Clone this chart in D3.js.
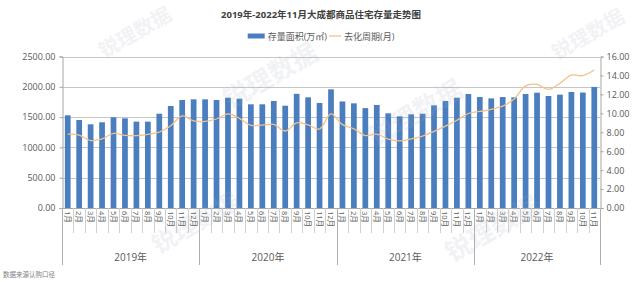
<!DOCTYPE html>
<html>
<head>
<meta charset="utf-8">
<script src="https://cdn.jsdelivr.net/npm/d3@7"></script>
<style>
  body { margin: 0; background: #fff; }
  svg { display: block; font-family: "Open Sans", "Noto Sans CJK SC", sans-serif; }
</style>
</head>
<body>
<div id="chart"></div>
<script>
// categories
const years = ["2019年", "2020年", "2021年", "2022年"];
const monthNames = ["1月", "2月", "3月", "4月", "5月", "6月", "7月", "8月", "9月", "10月", "11月", "12月"];
const monthsPerYear = [12, 12, 12, 11];

// 存量面积(万㎡)
const stock = [
  1530, 1452, 1381, 1414, 1497, 1480, 1425, 1425, 1556, 1683, 1782, 1793,
  1793, 1782, 1820, 1804, 1711, 1711, 1766, 1688, 1884, 1826, 1733, 1958,
  1758, 1727, 1648, 1700, 1562, 1513, 1546, 1556, 1694, 1766, 1820, 1881,
  1831, 1809, 1831, 1826, 1881, 1903, 1848, 1870, 1914, 1905, 1998
];

// 去化周期(月)
const cycle = [
  7.80, 7.70, 7.12, 7.29, 7.88, 7.67, 7.64, 7.78, 8.02, 8.69, 9.73, 9.19,
  9.15, 9.40, 9.95, 9.47, 8.73, 8.76, 8.83, 8.13, 9.00, 8.78, 8.34, 9.95,
  8.80, 8.36, 7.65, 7.80, 7.27, 7.08, 7.30, 7.60, 8.10, 8.65, 9.27, 9.98,
  10.20, 10.42, 10.75, 11.50, 12.90, 13.05, 12.52, 13.17, 14.04, 13.98, 14.57
];

const leftTicks = [0, 500, 1000, 1500, 2000, 2500];
const rightTicks = [0, 2, 4, 6, 8, 10, 12, 14, 16];

const title = "2019年-2022年11月大成都商品住宅存量走势图";
const seriesNames = ["存量面积(万㎡)", "去化周期(月)"];
const source = "数据来源认购口径";
const watermark = "锐理数据";

// build category list from years and months
const cats = [];
years.forEach((y, yi) => {
  for (let m = 0; m < monthsPerYear[yi]; m++) cats.push({ year: yi, month: monthNames[m] });
});

const width = 641, height = 282;
const plot = { left: 62, right: 600, top: 56.5, bottom: 208 };
const barColor = "#4a7ebf";
const lineColor = "#f4c08a";
const textColor = "#595959";

const svg = d3.select("#chart").append("svg")
  .attr("width", width)
  .attr("height", height);

const xCat = d3.scaleBand()
  .domain(d3.range(cats.length))
  .range([plot.left, plot.right]);

const xBar = d3.scaleBand()
  .domain(d3.range(cats.length))
  .range([plot.left, plot.right])
  .paddingInner(0.5)
  .paddingOuter(0.25);

const yL = d3.scaleLinear().domain([0, 2500]).range([plot.bottom, plot.top]);
const yR = d3.scaleLinear().domain([0, 16]).range([plot.bottom, plot.top]);

// gridlines
svg.append("g")
  .selectAll("line")
  .data(leftTicks)
  .enter().append("line")
  .attr("x1", plot.left)
  .attr("x2", plot.right)
  .attr("y1", d => Math.round(yL(d)) + 0.5)
  .attr("y2", d => Math.round(yL(d)) + 0.5)
  .attr("stroke", "#c6c6c6")
  .attr("stroke-width", 1);

// bars
svg.append("g")
  .selectAll("rect")
  .data(stock)
  .enter().append("rect")
  .attr("x", (d, i) => xBar(i))
  .attr("y", d => yL(d))
  .attr("width", xBar.bandwidth())
  .attr("height", d => yL(0) - yL(d))
  .attr("fill", barColor);

// line
const line = d3.line()
  .x((d, i) => xCat(i) + xCat.bandwidth() / 2)
  .y(d => yR(d))
  .curve(d3.curveCatmullRom.alpha(0.5));

svg.append("path")
  .datum(cycle)
  .attr("d", line)
  .attr("fill", "none")
  .attr("stroke", lineColor)
  .attr("stroke-width", 1.3);

// left axis
const leftAxis = svg.append("g")
  .attr("transform", `translate(${plot.left + 0.5},0)`)
  .call(d3.axisLeft(yL).tickValues(leftTicks).tickFormat(d3.format(".2f")).tickSize(3).tickPadding(4));

// right axis
const rightAxis = svg.append("g")
  .attr("transform", `translate(${plot.right + 0.5},0)`)
  .call(d3.axisRight(yR).tickValues(rightTicks).tickFormat(d3.format(".2f")).tickSize(3).tickPadding(3));

[leftAxis, rightAxis].forEach(g => {
  g.select(".domain").attr("stroke", "#a6a6a6");
  g.selectAll(".tick line").attr("stroke", "#a6a6a6");
  g.selectAll(".tick text")
    .attr("fill", textColor)
    .style("font-size", "9px")
    .style("font-family", "'Open Sans', sans-serif");
});

// category axis
const bottomAxis = svg.append("g");
bottomAxis.append("line")
  .attr("x1", plot.left)
  .attr("x2", plot.right + 0.5)
  .attr("y1", plot.bottom + 0.5)
  .attr("y2", plot.bottom + 0.5)
  .attr("stroke", "#a6a6a6");

// month separators, longer at year boundaries
const isYearEdge = i => i === 0 || i === cats.length || cats[i].year !== cats[i - 1].year;
const boundaries = d3.range(cats.length + 1);
bottomAxis.selectAll(".sep")
  .data(boundaries)
  .enter().append("line")
  .attr("class", "sep")
  .attr("x1", i => Math.round(i < cats.length ? xCat(i) : plot.right) + 0.5)
  .attr("x2", i => Math.round(i < cats.length ? xCat(i) : plot.right) + 0.5)
  .attr("y1", plot.bottom)
  .attr("y2", i => isYearEdge(i) ? 265 : 233)
  .attr("stroke", i => isYearEdge(i) ? "#b0b0b0" : "#d0d0d0");

bottomAxis.selectAll(".month")
  .data(cats)
  .enter().append("text")
  .attr("class", "month")
  .attr("transform", (d, i) => `translate(${xCat(i) + xCat.bandwidth() / 2},${plot.bottom + 3}) rotate(90)`)
  .attr("dominant-baseline", "central")
  .attr("fill", textColor)
  .style("font-size", "7.5px")
  .text(d => d.month);

// year labels
bottomAxis.selectAll(".year")
  .data(years)
  .enter().append("text")
  .attr("class", "year")
  .attr("x", (d, yi) => {
    const idx = cats.map((c, i) => c.year === yi ? i : -1).filter(i => i >= 0);
    const x0 = xCat(idx[0]);
    const x1 = xCat(idx[idx.length - 1]) + xCat.bandwidth();
    return (x0 + x1) / 2;
  })
  .attr("y", 261)
  .attr("text-anchor", "middle")
  .attr("fill", textColor)
  .style("font-size", "10px")
  .text(d => d);

// title
svg.append("text")
  .attr("x", 321)
  .attr("y", 18)
  .attr("text-anchor", "middle")
  .attr("fill", "#404040")
  .style("font-size", "9.5px")
  .style("font-weight", "bold")
  .text(title);

// legend
const legend = svg.append("g");
legend.append("rect")
  .attr("x", 0).attr("y", -2.5)
  .attr("width", 17).attr("height", 5)
  .attr("fill", barColor);
const t1 = legend.append("text")
  .attr("x", 20).attr("y", 0)
  .attr("dominant-baseline", "central")
  .attr("fill", textColor)
  .style("font-size", "9px")
  .text(seriesNames[0]);
const w1 = t1.node().getComputedTextLength();
legend.append("line")
  .attr("x1", 20 + w1 + 2).attr("x2", 20 + w1 + 14)
  .attr("y1", 0).attr("y2", 0)
  .attr("stroke", lineColor)
  .attr("stroke-width", 1.3);
const t2 = legend.append("text")
  .attr("x", 20 + w1 + 17).attr("y", 0)
  .attr("dominant-baseline", "central")
  .attr("fill", textColor)
  .style("font-size", "9px")
  .text(seriesNames[1]);
const legendW = 20 + w1 + 17 + t2.node().getComputedTextLength();
legend.attr("transform", `translate(${321 - legendW / 2},36)`);

// source note
svg.append("text")
  .attr("x", 3)
  .attr("y", 277)
  .attr("fill", "#7f7f7f")
  .style("font-size", "6.5px")
  .text(source);

// watermarks (size, x, y)
const marks = [[20, 135, 32], [26, 270, 75], [26, 415, 112], [26, 492, 228], [20, 588, 34], [24, 195, 222]];
svg.append("g")
  .selectAll("text")
  .data(marks)
  .enter().append("text")
  .attr("transform", d => `translate(${d[1]},${d[2]}) rotate(-30)`)
  .attr("text-anchor", "middle")
  .attr("dominant-baseline", "central")
  .attr("fill", "#a8b0c0")
  .attr("opacity", 0.15)
  .style("font-size", d => d[0] + "px")
  .style("font-weight", "bold")
  .text(watermark);
</script>
</body>
</html>
